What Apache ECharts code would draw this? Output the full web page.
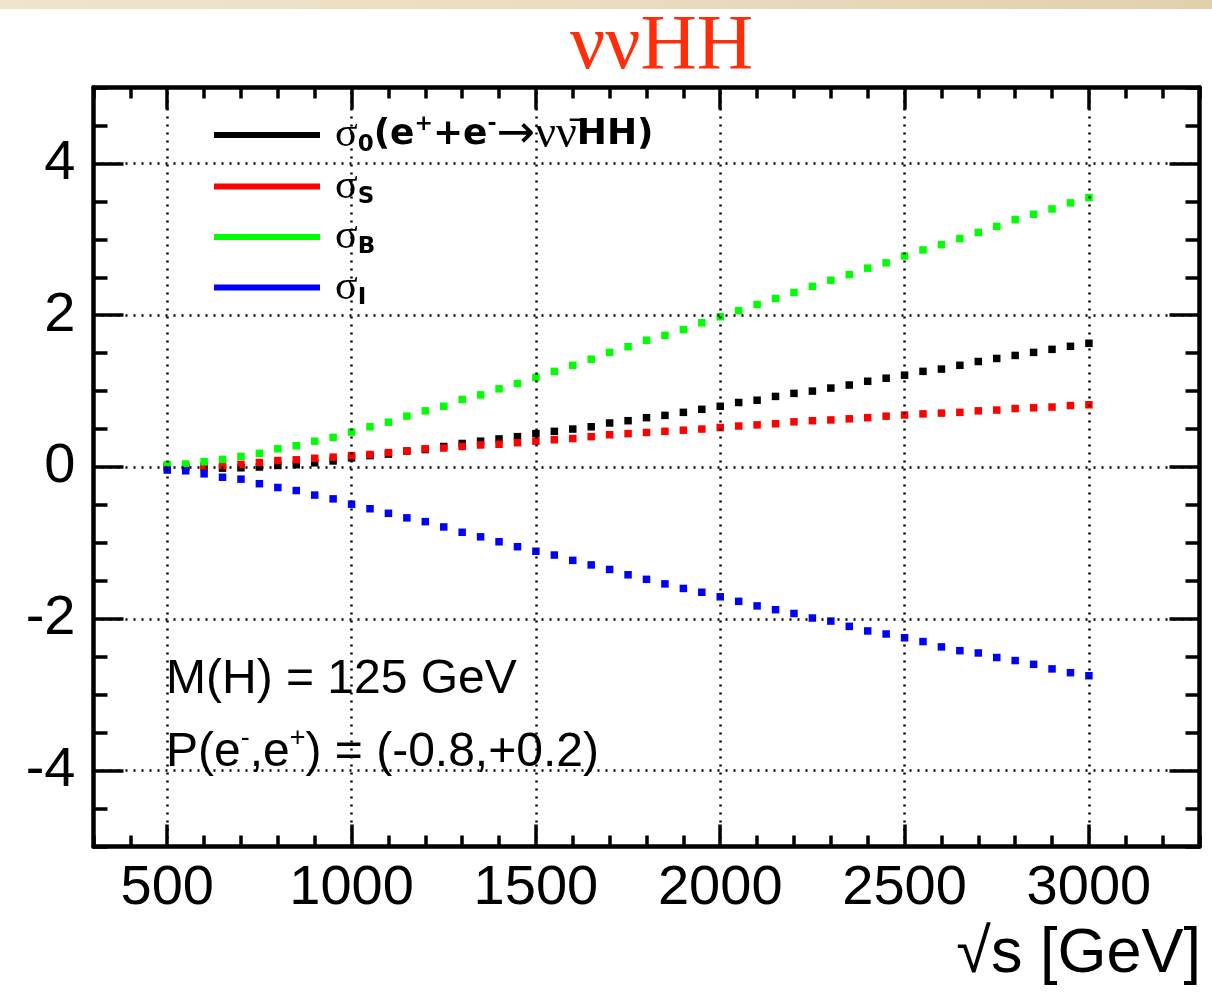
<!DOCTYPE html>
<html><head><meta charset="utf-8">
<script src="https://cdn.jsdelivr.net/npm/echarts@6/dist/echarts.min.js"></script>
<style>html,body{margin:0;padding:0;background:#fff}#c{width:1212px;height:994px}</style>
</head><body><div id="c"></div>
<script>
// sqrt(s) in GeV
const energies = [500,550,600,650,700,750,800,850,900,950,1000,1050,1100,1150,1200,1250,1300,1350,1400,1450,1500,1550,1600,1650,1700,1750,1800,1850,1900,1950,2000,2050,2100,2150,2200,2250,2300,2350,2400,2450,2500,2550,2600,2650,2700,2750,2800,2850,2900,2950,3000];
// sigma_0 (black)
const sigma0 = [0.0,0.0,-0.005,-0.015,-0.01,0.0,0.02,0.03,0.055,0.08,0.12,0.15,0.17,0.21,0.23,0.27,0.31,0.34,0.37,0.40,0.44,0.47,0.50,0.53,0.58,0.61,0.65,0.68,0.72,0.76,0.80,0.85,0.88,0.93,0.97,1.00,1.04,1.08,1.13,1.17,1.21,1.26,1.29,1.34,1.39,1.43,1.47,1.51,1.55,1.59,1.63];
// sigma_S (red)
const sigmaS = [0.01,0.01,0.015,0.02,0.035,0.06,0.085,0.095,0.115,0.13,0.15,0.165,0.19,0.21,0.24,0.25,0.27,0.29,0.30,0.32,0.34,0.36,0.375,0.40,0.425,0.44,0.455,0.47,0.485,0.50,0.52,0.54,0.555,0.57,0.595,0.61,0.62,0.635,0.65,0.67,0.685,0.70,0.71,0.72,0.74,0.75,0.77,0.78,0.79,0.81,0.82];
// sigma_B (green)
const sigmaB = [0.03,0.04,0.07,0.10,0.14,0.18,0.24,0.28,0.34,0.39,0.46,0.53,0.59,0.67,0.74,0.80,0.89,0.95,1.03,1.10,1.18,1.26,1.34,1.42,1.51,1.585,1.67,1.735,1.81,1.90,1.98,2.06,2.14,2.22,2.30,2.38,2.46,2.535,2.62,2.69,2.78,2.86,2.93,3.01,3.09,3.17,3.26,3.33,3.40,3.48,3.55];
// sigma_I (blue)
const sigmaI = [-0.04,-0.05,-0.09,-0.135,-0.16,-0.22,-0.27,-0.31,-0.37,-0.42,-0.49,-0.55,-0.61,-0.67,-0.72,-0.79,-0.86,-0.92,-0.985,-1.05,-1.11,-1.16,-1.23,-1.29,-1.35,-1.42,-1.48,-1.54,-1.60,-1.65,-1.71,-1.77,-1.83,-1.88,-1.93,-1.99,-2.03,-2.10,-2.16,-2.20,-2.25,-2.30,-2.37,-2.42,-2.45,-2.51,-2.55,-2.60,-2.66,-2.71,-2.75];

const xMajorTicks = [500,1000,1500,2000,2500,3000];
const yMajorTicks = [-4,-2,0,2,4];
const seriesNames = ['s0','sS','sB','sI'];
const legendLabels = {
  s0: '{sg|σ}{sub|0}{b|(e}{sup|+}{b|+e}{sup|-}{ar|→}{nu|νν̄}{b|HH)}',
  sS: '{sg|σ}{sub|S}',
  sB: '{sg|σ}{sub|B}',
  sI: '{sg|σ}{sub|I}'
};

const chart = echarts.init(document.getElementById('c'), null, {renderer:'canvas'});
const SANS = 'Liberation Sans, Arial, Helvetica, sans-serif';
const BOLD = 'DejaVu Sans, Liberation Sans, sans-serif';
const SERIF = 'Liberation Serif, Times New Roman, serif';
const frameLine = {show:true, onZero:false, lineStyle:{color:'#000', width:4.5}};
const noLine = {show:false, onZero:false};

function xAxisDef(pos, major, labels){
  return {
    type:'value', position:pos, min:300, max:3300, interval:100,
    axisLine: major ? noLine : frameLine,
    axisTick: major ? {show:true, inside:true, length:22, customValues:xMajorTicks, lineStyle:{color:'#000', width:3.5}}
                    : {show:true, inside:true, length:11, lineStyle:{color:'#000', width:3.5}},
    axisLabel: labels ? {show:true, margin:14, fontSize:56, fontFamily:SANS, color:'#000',
                formatter: v => (xMajorTicks.indexOf(v) >= 0 ? String(v) : '')} : {show:false},
    splitLine:{show:false}
  };
}
function yAxisDef(pos, major, labels){
  return {
    type:'value', position:pos, min:-5, max:5, interval:0.5,
    axisLine: major ? noLine : frameLine,
    axisTick: major ? {show:true, inside:true, length:30, customValues:yMajorTicks, lineStyle:{color:'#000', width:3.5}}
                    : {show:true, inside:true, length:14, lineStyle:{color:'#000', width:3.5}},
    axisLabel: labels ? {show:true, margin:18, fontSize:56, fontFamily:SANS, color:'#000',
                formatter: v => (yMajorTicks.indexOf(v) >= 0 ? String(v) : '')} : {show:false},
    splitLine:{show:false}
  };
}

function sc(name, vals, color){
  return {
    name, type:'scatter', xAxisIndex:0, yAxisIndex:0, symbol:'rect', symbolSize:7.5,
    itemStyle:{color, opacity:1}, z:3, silent:true,
    data: energies.map((e,i)=>[e, vals[i]])
  };
}

const option = {
  animation:false,
  backgroundColor:'#ffffff',
  title:{text:'ννHH', left:565, top:4, textStyle:{fontFamily:SERIF, fontWeight:'normal', fontSize:78, color:'#ff2d0a'}},
  grid:{left:93.5, right:12.5, top:87.5, bottom:147.5, containLabel:false},
  xAxis:[xAxisDef('bottom',false,true), xAxisDef('bottom',true,false), xAxisDef('top',false,false), xAxisDef('top',true,false)],
  yAxis:[yAxisDef('left',false,true), yAxisDef('left',true,false), yAxisDef('right',false,false), yAxisDef('right',true,false)],
  legend:{
    orient:'vertical', left:209, top:107, itemWidth:106, itemHeight:6, itemGap:7.5,
    selectedMode:false,
    data: seriesNames.map(n=>({name:n, icon:'rect', itemStyle:{opacity:1}})),
    formatter: n => legendLabels[n],
    textStyle:{
      color:'#000',
      rich:{
        sg:{fontFamily:SERIF, fontSize:42, color:'#000', lineHeight:44, padding:[0,0,0,10]},
        sub:{fontFamily:BOLD, fontWeight:'bold', fontSize:23, color:'#000', lineHeight:12, verticalAlign:'bottom'},
        sup:{fontFamily:BOLD, fontWeight:'bold', fontSize:22, color:'#000', lineHeight:20, verticalAlign:'top'},
        b:{fontFamily:BOLD, fontWeight:'bold', fontSize:36, color:'#000', lineHeight:44},
        ar:{fontFamily:'DejaVu Sans, sans-serif', fontSize:46, color:'#000', lineHeight:44},
        nu:{fontFamily:SERIF, fontSize:46, color:'#000', lineHeight:44}
      }
    }
  },
  graphic:[
    {type:'rect', left:0, top:0, z:-10, shape:{width:1212, height:9},
     style:{fill:new echarts.graphic.LinearGradient(0,0,1,0,[{offset:0,color:'#efe4cc'},{offset:0.5,color:'#eadcbf'},{offset:1,color:'#e2d0ad'}])}},
    {type:'text', left:166, top:656, z:10,
     style:{text:'M(H) = 125 GeV', font:'48px '+SANS, fill:'#000'}},
    {type:'text', left:166, top:725, z:10,
     style:{text:'{t|P(e}{s|-}{t|,e}{s|+}{t|) = (-0.8,+0.2)}', fill:'#000',
       rich:{t:{fontFamily:SANS, fontSize:48, lineHeight:56, fill:'#000'},
             s:{fontFamily:SANS, fontSize:27, lineHeight:24, verticalAlign:'top', fill:'#000'}}}},
    {type:'text', right:11, top:923, z:10,
     style:{text:'√s [GeV]', font:'63px '+SANS, fill:'#000'}}
  ],
  series:[
    {type:'scatter', name:'gridlines', xAxisIndex:0, yAxisIndex:0, data:[[300,-5]], symbolSize:0, z:1, silent:true,
     markLine:{silent:true, symbol:['none','none'], label:{show:false}, animation:false,
       lineStyle:{color:'#000', width:2.5, type:[2,6], opacity:1},
       data:[...xMajorTicks.map(v=>({xAxis:v})), ...yMajorTicks.map(v=>({yAxis:v}))]}},
    sc('s0', sigma0, '#000000'),
    sc('sS', sigmaS, '#ff0000'),
    sc('sB', sigmaB, '#00ff00'),
    sc('sI', sigmaI, '#0000ff')
  ]
};
chart.setOption(option);
</script>
</body></html>
